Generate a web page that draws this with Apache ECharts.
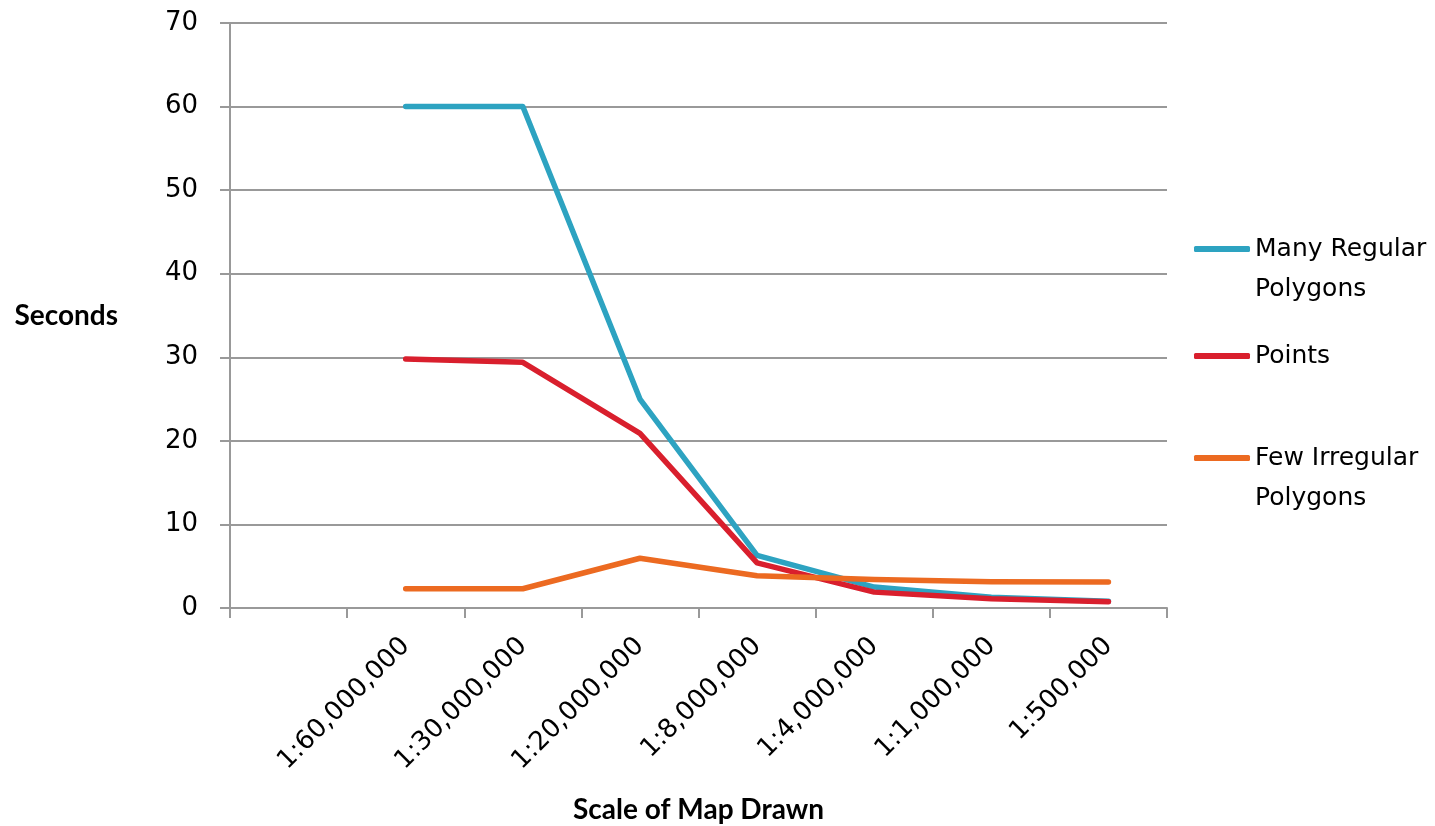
<!DOCTYPE html>
<html>
<head>
<meta charset="utf-8">
<script src="https://cdn.jsdelivr.net/npm/echarts@6/dist/echarts.min.js"></script>
<style>html,body{margin:0;padding:0;background:#fff}#c{width:1435px;height:826px}</style>
</head>
<body>
<div id="c"></div>
<script>
const categories = ['', '1:60,000,000', '1:30,000,000', '1:20,000,000', '1:8,000,000', '1:4,000,000', '1:1,000,000', '1:500,000'];
const manyRegular = [60, 60, 25, 6.3, 2.5, 1.3, 0.8];
const points = [29.8, 29.4, 20.9, 5.4, 1.9, 1.1, 0.75];
const fewIrregular = [2.3, 2.3, 5.95, 3.85, 3.4, 3.15, 3.1];
const yTicks = { min: 0, max: 70, interval: 10 };
const names = ['Many Regular\nPolygons', 'Points', 'Few Irregular\nPolygons'];

const FONT = 'DejaVu Sans';
const TITLE_FONT = 'Lato';
const colors = ['#2da3c1', '#d91f2d', '#ec6a21'];
const pad = v => [null].concat(v);

function mkLegend(name, top, multi) {
  return {
    top: top, left: 1189,
    data: [name],
    icon: 'roundRect',
    itemWidth: 56, itemHeight: 6, itemGap: 4,
    selectedMode: false,
    formatter: n => (multi ? '\n' : '') + n,
    textStyle: { fontFamily: FONT, fontSize: 25, color: '#000', lineHeight: 40 }
  };
}

const chart = echarts.init(document.getElementById('c'), null, { renderer: 'canvas' });
chart.setOption({
  animation: false,
  backgroundColor: '#fff',
  grid: { left: 230, right: 268, top: 23, bottom: 218, containLabel: false, outerBoundsMode: 'none' },
  legend: [
    mkLegend(names[0], 184, true),
    mkLegend(names[1], 331, false),
    mkLegend(names[2], 393, true)
  ],
  xAxis: {
    type: 'category',
    data: categories,
    boundaryGap: true,
    name: 'Scale of Map Drawn',
    nameLocation: 'middle',
    nameGap: 188,
    nameTextStyle: { fontFamily: TITLE_FONT, fontSize: 28, fontWeight: 'bold', color: '#000' },
    axisLine: { lineStyle: { color: '#999', width: 2 } },
    axisTick: { show: true, length: 10, interval: 0, lineStyle: { color: '#999', width: 2 } },
    axisLabel: { rotate: 45, interval: 0, margin: 34, fontFamily: FONT, fontSize: 26, color: '#000' },
    splitLine: { show: false }
  },
  yAxis: {
    type: 'value',
    min: yTicks.min, max: yTicks.max, interval: yTicks.interval,
    name: 'Seconds',
    nameLocation: 'middle',
    nameRotate: 0,
    nameGap: 112,
    nameTextStyle: { fontFamily: TITLE_FONT, fontSize: 28, fontWeight: 'bold', color: '#000' },
    axisLine: { show: true, lineStyle: { color: '#999', width: 2 } },
    axisTick: { show: true, length: 10, lineStyle: { color: '#999', width: 2 } },
    axisLabel: { margin: 32, fontFamily: FONT, fontSize: 26, color: '#000' },
    splitLine: { show: true, lineStyle: { color: '#999', width: 2 } }
  },
  series: [
    { name: names[0], type: 'line', data: pad(manyRegular), symbol: 'none', color: colors[0],
      lineStyle: { width: 5.5, cap: 'round', join: 'round' } },
    { name: names[1], type: 'line', data: pad(points), symbol: 'none', color: colors[1],
      lineStyle: { width: 5.5, cap: 'round', join: 'round' } },
    { name: names[2], type: 'line', data: pad(fewIrregular), symbol: 'none', color: colors[2],
      lineStyle: { width: 5.5, cap: 'round', join: 'round' } }
  ]
});
</script>
</body>
</html>
